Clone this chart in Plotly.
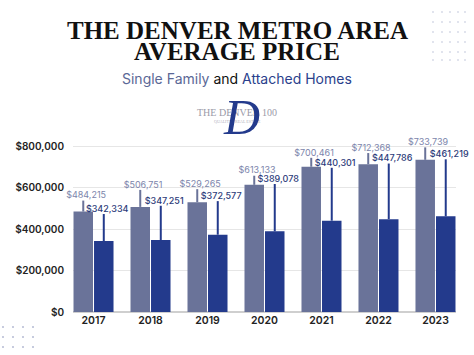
import plotly.graph_objects as go

years = ["2017", "2018", "2019", "2020", "2021", "2022", "2023"]
single_family = [484215, 506751, 529265, 613133, 700461, 712368, 733739]
attached = [342334, 347251, 372577, 389078, 440301, 447786, 461219]
single_family_err = [53000, 82000, 63000, 44000, 43000, 54000, 60000]
attached_err = [130000, 165000, 162000, 228000, 255000, 268000, 275000]
y_ticks = [0, 200000, 400000, 600000, 800000]
y_tick_labels = ["$0", "$200,000", "$400,000", "$600,000", "$800,000"]

W, H = 474, 355
L, R, T, B = 73, 18, 144, 43
PW, PH = W - L - R, H - T - B


def px(x):
    return (x - L) / PW


def py(y):
    return (H - B - y) / PH


LIGHT = "#6a7399"
DARK = "#233a8c"
LIGHT_TXT = "#7c85ab"
DARK_TXT = "#2d3c7a"

xs = list(range(len(years)))
fig = go.Figure()
fig.add_bar(
    x=xs, y=single_family, marker_color=LIGHT, marker_line_width=0,
    error_y=dict(type="data", array=single_family_err, symmetric=False,
                 arrayminus=[0] * len(years), color=LIGHT, thickness=2, width=0),
    hoverinfo="skip",
)
fig.add_bar(
    x=xs, y=attached, marker_color=DARK, marker_line_width=0,
    error_y=dict(type="data", array=attached_err, symmetric=False,
                 arrayminus=[0] * len(years), color=DARK, thickness=2, width=0),
    hoverinfo="skip",
)
fig.add_scatter(
    x=[i - 0.13 for i in xs],
    y=[v + e for v, e in zip(single_family, single_family_err)],
    mode="text", text=[f"${v:,}" for v in single_family], textposition="top center",
    textfont=dict(family="Inter", size=9, color=LIGHT_TXT), cliponaxis=False, hoverinfo="skip",
)
fig.add_scatter(
    x=[i + 0.24 for i in xs],
    y=[v + e for v, e in zip(attached, attached_err)],
    mode="text", text=[f"${v:,}" for v in attached], textposition="top center",
    textfont=dict(family="Inter", size=9, color=DARK_TXT, weight=500), cliponaxis=False,
    hoverinfo="skip",
)

shapes = []
# decorative dot grids
for cx in [433, 442, 450, 458, 465]:
    for cy in [12, 22, 32, 42, 52, 60]:
        shapes.append(dict(type="circle", xref="paper", yref="paper",
                           x0=px(cx - 0.8), x1=px(cx + 0.8), y0=py(cy + 0.8), y1=py(cy - 0.8),
                           fillcolor="#b9bfd6", line_width=0, layer="above"))
for cx in [3, 13, 23, 33]:
    for cy in [327, 337, 347]:
        shapes.append(dict(type="circle", xref="paper", yref="paper",
                           x0=px(cx - 0.8), x1=px(cx + 0.8), y0=py(cy + 0.8), y1=py(cy - 0.8),
                           fillcolor="#7d88b3", line_width=0, layer="above"))


def ann(text, x, y, size, color, family, weight=None):
    f = dict(family=family, size=size, color=color)
    if weight:
        f["weight"] = weight
    return dict(text=text, x=px(x), y=py(y), xref="paper", yref="paper",
                xanchor="center", yanchor="middle", showarrow=False, font=f)


annotations = [
    ann("<b>THE DENVER METRO AREA</b>", 237, 30, 25, "#111111", "Liberation Serif"),
    ann("<b>AVERAGE PRICE</b>", 237, 52, 25, "#111111", "Liberation Serif"),
    ann("<span style='color:#5b6896'>Single Family</span> and "
        "<span style='color:#2b3f8c'>Attached Homes</span>", 237, 78, 14, "#111111", "Inter", 400),
    ann("THE DENVER 100", 237, 112, 10, "#9a9aa8", "Liberation Serif"),
    ann("QUALITY · REAL ESTATE", 237, 121, 4, "#b0b0bb", "Liberation Serif"),
    ann("<i>D</i>", 241, 117, 50, "#233a8c", "Liberation Serif"),
]

fig.update_layout(
    width=W, height=H, margin=dict(l=L, r=R, t=T, b=B, pad=0),
    paper_bgcolor="white", plot_bgcolor="white",
    barmode="group", bargap=0.28, bargroupgap=0.05, showlegend=False,
    shapes=shapes, annotations=annotations,
    xaxis=dict(range=[-0.36, len(years) - 1 + 0.36], tickvals=xs, ticktext=years,
               showgrid=False, zeroline=False, showline=False, ticks="", automargin=False,
               tickfont=dict(family="Inter", size=10.5, color="#222222", weight=600),
               fixedrange=True),
    yaxis=dict(range=[0, 810000], tickvals=y_ticks, ticktext=y_tick_labels,
               showgrid=True, gridcolor="#e6e6e6", gridwidth=1, zeroline=True,
               zerolinecolor="#cfcfcf", zerolinewidth=1.5, showline=False, ticks="",
               ticklabelstandoff=8, automargin=False,
               tickfont=dict(family="Inter", size=10, color="#222222", weight=600),
               fixedrange=True),
)

fig.write_html("out.html", config={"displayModeBar": False},
               post_script="document.body.style.margin='0';document.body.style.padding='0';")
